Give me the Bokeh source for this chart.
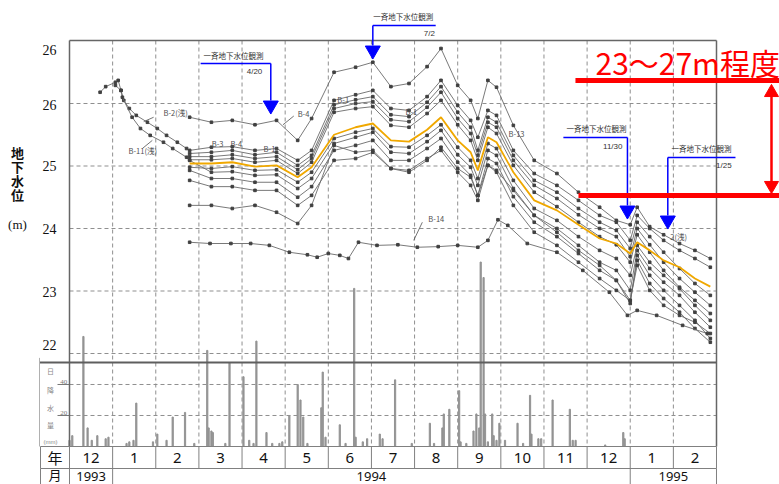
import datetime as dt
from bokeh.plotting import figure
from bokeh.models import Range1d
from bokeh.core.properties import value
from bokeh.embed import file_html
from bokeh.resources import INLINE

# ---------------- data ----------------
CLUSTER_DATES = ["1994-02-23", "1994-03-10", "1994-03-25", "1994-04-10", "1994-04-25", "1994-05-10",
                 "1994-05-20", "1994-06-05", "1994-06-20", "1994-07-02", "1994-07-15", "1994-07-28",
                 "1994-08-10", "1994-08-20", "1994-09-01", "1994-09-10", "1994-09-15", "1994-09-22",
                 "1994-09-28", "1994-10-10", "1994-10-25", "1994-11-10", "1994-11-25", "1994-12-10",
                 "1994-12-22", "1995-01-01", "1995-01-06", "1995-01-15", "1995-01-25", "1995-02-05",
                 "1995-02-15", "1995-02-25"]

B4_TOP = [25.78, 25.70, 25.73, 25.66, 25.73, 25.41, 25.76, 26.50, 26.58, 26.66,
          26.27, 26.32, 26.59, 26.88, 26.29, 26.05, 25.76, 26.37, 26.26, 25.65,
          25.09, 24.88, 24.58, 24.34, 24.13, 24.06, 24.34, 24.03, 23.90, 23.76,
          23.65, 23.52]
HIGHLIGHT = [25.04, 25.04, 25.06, 24.99, 25.01, 24.82, 24.98, 25.50, 25.62, 25.68,
             25.41, 25.39, 25.58, 25.78, 25.41, 25.22, 24.93, 25.46, 25.38, 24.90,
             24.45, 24.29, 24.06, 23.84, 23.76, 23.60, 23.78, 23.65, 23.49, 23.38,
             23.20, 23.07]
B2_MAIN = [25.25, 25.30, 25.31, 25.25, 25.28, 25.09, 25.25, 26.05, 26.14, 26.21,
           25.92, 25.89, 26.11, 26.37, 25.97, 25.73, 25.46, 25.89, 25.81, 25.25,
           24.88, 24.69, 24.45, 24.21, 24.10, 23.81, 24.21, 24.00, 23.81, 23.65,
           23.52, 23.38]
WELL_C2 = [25.20, 25.22, 25.25, 25.18, 25.22, 25.01, 25.17, 25.98, 26.06, 26.11,
           25.82, 25.79, 26.02, 26.27, 25.86, 25.62, 25.25, 25.78, 25.70, 25.17,
           24.77, 24.58, 24.32, 24.10, 23.97, 23.68, 24.10, 23.87, 23.62, 23.36,
           23.12, 22.93]
WELL_C3 = [25.15, 25.15, 25.18, 25.12, 25.15, 24.94, 25.12, 25.92, 26.00, 26.03,
           25.74, 25.71, 25.94, 26.18, 25.76, 25.52, 25.17, 25.70, 25.62, 25.09,
           24.69, 24.48, 24.22, 24.00, 23.87, 23.55, 24.00, 23.74, 23.46, 23.20,
           22.98, 22.77]
WELL_C4 = [25.10, 25.10, 25.12, 25.06, 25.09, 24.88, 25.06, 25.86, 25.92, 25.95,
           25.65, 25.62, 25.84, 26.05, 25.66, 25.41, 25.09, 25.62, 25.52, 25.01,
           24.58, 24.35, 24.10, 23.87, 23.74, 23.46, 23.90, 23.62, 23.33, 23.06,
           22.85, 22.64]
WELL_C5 = [24.98, 24.96, 24.99, 24.93, 24.94, 24.74, 24.90, 25.44, 25.54, 25.60,
           25.31, 25.30, 25.49, 25.66, 25.30, 25.09, 24.80, 25.36, 25.28, 24.77,
           24.32, 24.13, 23.87, 23.65, 23.52, 23.25, 23.73, 23.46, 23.25, 23.04,
           22.77, 22.53]
B11_MAIN = [25.09, 24.90, 24.91, 24.85, 24.86, 24.64, 24.80, 25.36, 25.46, 25.54,
            25.22, 25.20, 25.39, 25.57, 25.18, 24.98, 24.69, 25.25, 25.17, 24.64,
            24.21, 24.00, 23.73, 23.46, 23.33, 23.01, 23.65, 23.36, 23.14, 22.93,
            22.66, 22.42]
WELL_C7 = [24.93, 24.80, 24.80, 24.74, 24.74, 24.50, 24.67, 25.25, 25.33, 25.41,
           25.09, 25.09, 25.28, 25.44, 25.06, 24.85, 24.53, 25.12, 25.04, 24.51,
           24.10, 23.87, 23.60, 23.33, 23.17, 22.80, 23.57, 23.25, 23.01, 22.77,
           22.53, 22.24]
WELL_C8 = [24.77, 24.67, 24.67, 24.61, 24.61, 24.37, 24.53, 25.09, 25.12, 25.22,
           24.96, 24.93, 25.12, 25.25, 24.90, 24.69, 24.45, 25.01, 24.90, 24.37,
           23.94, 23.73, 23.46, 23.20, 23.01, 22.85, 23.49, 23.12, 22.88, 22.66,
           22.40, 22.18]
WELL_LOW = [24.37, 24.37, 24.32, 24.37, 24.26, 24.08, 24.37, 25.33, 25.22, 25.25,
            24.96, 24.90, 25.09, 25.30, 24.96, 24.82, 24.53, 25.01, 24.93, 24.61,
            24.21, 23.94, 23.65, 23.41, 23.17, 22.85, 23.41, 23.01, 22.77, 22.61,
            22.50, 22.32]

B2_EARLY_DATES = ["1993-12-23", "1993-12-27", "1994-01-03", "1994-01-05", "1994-01-07", "1994-01-09",
                  "1994-01-13", "1994-01-18", "1994-01-26", "1994-02-02", "1994-02-08", "1994-02-15",
                  "1994-02-21"]
B2_EARLY = [26.18, 26.27, 26.34, 26.37, 26.21, 26.05, 25.92, 25.81, 25.70, 25.60, 25.49, 25.38, 25.28]
B11_EARLY_DATES = ["1994-01-03", "1994-01-07", "1994-01-08", "1994-01-15", "1994-01-21", "1994-01-28",
                   "1994-02-06", "1994-02-12", "1994-02-21"]
B11_EARLY = [26.29, 26.21, 26.10, 25.78, 25.60, 25.49, 25.38, 25.28, 25.14]

B14_DATES = ["1994-02-23", "1994-03-09", "1994-03-24", "1994-04-07", "1994-04-20", "1994-05-04",
             "1994-05-17", "1994-05-24", "1994-06-01", "1994-06-09", "1994-06-15", "1994-06-22",
             "1994-07-05", "1994-07-20", "1994-08-03", "1994-08-18", "1994-09-01", "1994-09-15",
             "1994-09-22", "1994-09-29", "1994-10-06", "1994-10-20", "1994-11-10", "1994-11-28",
             "1994-12-17", "1994-12-30", "1995-01-06", "1995-01-20", "1995-02-07", "1995-02-23"]
B14 = [23.78, 23.76, 23.76, 23.76, 23.73, 23.62, 23.58, 23.54, 23.60, 23.57,
       23.52, 23.78, 23.73, 23.74, 23.70, 23.71, 23.73, 23.70, 23.81, 24.14,
       24.05, 23.76, 23.62, 23.33, 22.98, 22.61, 22.69, 22.61, 22.45, 22.32]

RAIN_DATES = ["1993-12-01", "1993-12-03", "1993-12-11", "1993-12-14", "1993-12-17", "1993-12-21",
              "1993-12-27", "1993-12-29", "1994-01-11", "1994-01-13", "1994-01-16", "1994-01-18",
              "1994-01-30", "1994-02-02", "1994-02-08", "1994-02-12", "1994-02-20", "1994-02-26",
              "1994-03-07", "1994-03-08", "1994-03-10", "1994-03-11", "1994-03-20", "1994-03-23",
              "1994-04-02", "1994-04-06", "1994-04-09", "1994-04-11", "1994-04-18", "1994-04-22",
              "1994-04-27", "1994-04-29", "1994-05-04", "1994-05-10", "1994-05-12", "1994-05-14",
              "1994-05-17", "1994-05-27", "1994-05-28", "1994-05-30", "1994-06-09", "1994-06-13",
              "1994-06-19", "1994-06-20", "1994-06-25", "1994-06-28", "1994-07-07", "1994-07-09",
              "1994-07-18", "1994-07-30", "1994-08-12", "1994-08-15", "1994-08-21", "1994-08-22",
              "1994-08-26", "1994-09-02", "1994-09-03", "1994-09-07", "1994-09-12", "1994-09-14",
              "1994-09-16", "1994-09-17", "1994-09-19", "1994-09-20", "1994-09-22", "1994-09-25",
              "1994-09-26", "1994-09-28", "1994-09-30", "1994-10-04", "1994-10-13", "1994-10-17",
              "1994-10-22", "1994-10-23", "1994-10-28", "1994-10-30", "1994-11-07", "1994-11-19",
              "1994-11-21", "1994-11-23", "1994-12-14", "1994-12-27", "1994-12-28"]
RAIN_MM = [4, 7, 71, 12, 4, 7, 5, 6, 2, 3, 4, 28,
           3, 8, 4, 19, 22, 2, 62, 12, 10, 9, 2, 54,
           45, 4, 2, 68, 9, 2, 2, 3, 20, 40, 30, 19,
           2, 25, 48, 6, 14, 2, 102, 6, 3, 5, 8, 5,
           43, 2, 15, 2, 12, 21, 24, 36, 3, 2, 10, 21,
           12, 119, 109, 21, 3, 21, 7, 4, 15, 4, 15, 2,
           33, 8, 5, 5, 30, 24, 4, 4, 1, 9, 5]

GRID_LEVELS = [26, 25, 24, 23, 22]
YTICK_LEVELS = [26.85, 25.97, 25.0, 24.0, 22.98, 22.13]
YTICK_LABELS = ["26", "26", "25", "24", "23", "22"]
RAIN_TICKS = [20, 40]
TABLE_MONTHS = ["12", "1", "2", "3", "4", "5", "6", "7", "8", "9", "10", "11", "12", "1", "2"]
TABLE_YEARS = ["1993", "1994", "1995"]
YEAR_START = [0, 1, 13]
YEAR_END = [1, 13, 15]
OBS_LABELS = ["4/20", "7/2", "11/30", "1/25"]
OBS_ARROW_DATES = ["1994-04-21", "1994-07-02", "1994-12-30", "1995-01-28"]


def midx(s):
    d = dt.date.fromisoformat(s)
    nxt = dt.date(d.year + (d.month == 12), d.month % 12 + 1, 1)
    dim = (nxt - dt.date(d.year, d.month, 1)).days
    return (d.year - 1993) * 12 + d.month - 12 + (d.day - 1) / dim


# ---------------- figure ----------------
TOP_L, BOT_L = 27.008, 20.512      # chart frame (level units)
p = figure(width=779, height=484,
           x_range=Range1d(-1.59969, 16.4606), y_range=Range1d(19.904, 27.648),
           output_backend="svg", toolbar_location=None,
           x_axis_type=None, y_axis_type=None, min_border=0,
           outline_line_color=None, background_fill_color="white", border_fill_color="white")
p.extra_y_ranges = {"rain": Range1d(-24.516, 287.74)}

GRID_C = "#8f8f8f"
# horizontal water-level grid
p.segment(x0=[0] * len(GRID_LEVELS), y0=GRID_LEVELS, x1=[15] * len(GRID_LEVELS), y1=GRID_LEVELS,
          line_color=GRID_C, line_width=1, line_dash="4 3")
# rain grid
p.segment(x0=[0, 0], y0=RAIN_TICKS, x1=[15, 15], y1=RAIN_TICKS, y_range_name="rain",
          line_color=GRID_C, line_width=1, line_dash="4 3")
p.segment(x0=[-0.278] * 2, y0=RAIN_TICKS, x1=[0] * 2, y1=RAIN_TICKS, y_range_name="rain",
          line_color="#777777", line_width=1)
# month boundaries
mb = list(range(1, 15))
p.segment(x0=mb, y0=[TOP_L] * len(mb), x1=mb, y1=[BOT_L] * len(mb),
          line_color=GRID_C, line_width=1, line_dash="4 3")

# rain bars
p.vbar(x=[midx(d) for d in RAIN_DATES], top=RAIN_MM, bottom=0, width=0.028,
       y_range_name="rain", color="#939393")

# frame
p.segment(x0=[0, 0, 15], y0=[TOP_L, TOP_L, TOP_L], x1=[15, 0, 15], y1=[TOP_L, BOT_L, BOT_L],
          line_color="#666666", line_width=1.5)
p.segment(x0=[-0.6955], y0=[21.856], x1=[15], y1=[21.856], line_color="#5e5e5e", line_width=2.2)
p.segment(x0=[-0.6955], y0=[21.93], x1=[-0.6955], y1=[BOT_L], line_color="#b0b0b0", line_width=1)

# water level lines
LINE_C, MARK_C = "#6a6a6a", "#404040"
cx = [midx(d) for d in CLUSTER_DATES]
series = [
    ([midx(d) for d in B2_EARLY_DATES] + cx, B2_EARLY + B2_MAIN),
    ([midx(d) for d in B11_EARLY_DATES] + cx, B11_EARLY + B11_MAIN),
    (cx, B4_TOP), (cx, WELL_C2), (cx, WELL_C3), (cx, WELL_C4), (cx, WELL_C5),
    (cx, WELL_C7), (cx, WELL_C8), (cx, WELL_LOW),
    ([midx(d) for d in B14_DATES], B14),
]
for xs, ys in series:
    p.line(xs, ys, line_color=LINE_C, line_width=0.9)
    p.scatter(xs, ys, marker="square", size=2.6, color=MARK_C)
p.line(cx, HIGHLIGHT, line_color="#f0a800", line_width=1.8)

# station labels
p.text(x=[2.18, 1.37, 5.29, 3.30, 3.73, 4.50, 6.21, 7.79, 8.32, 10.18, 13.93],
       y=[25.86, 25.25, 25.84, 25.36, 25.36, 25.28, 26.06, 25.87, 24.16, 25.52, 23.87],
       text=["B-2(浅)", "B-11(浅)", "B-4", "B-3", "B-4", "B-1", "B-1", "B-1", "B-14", "B-13", "2(浅)"],
       text_font=value("Noto Sans CJK JP"), text_font_size="7.5px", text_color="#505050",
       text_align="left", text_baseline="middle")
p.segment(x0=[1.95, 1.69, 5.20, 8.18], y0=[25.78, 25.28, 25.80, 24.10],
          x1=[1.72, 1.92, 4.95, 7.98], y1=[25.71, 25.41, 25.66, 23.81],
          line_color="#505050", line_width=0.8)

# y tick labels (water level)
p.text(x=[-0.30] * len(YTICK_LEVELS), y=YTICK_LEVELS, text=YTICK_LABELS,
       text_font=value("Liberation Serif"), text_font_size="14px", text_color="#111111",
       text_align="right", text_baseline="middle")
# y axis title
p.text(x=[-1.2056] * 4, y=[25.216, 24.992, 24.768, 24.544], text=["地", "下", "水", "位"],
       text_font=value("Noto Sans CJK JP"), text_font_size="13px", text_font_style="bold",
       text_color="#111111", text_align="center", text_baseline="middle")
p.text(x=[-1.2056], y=[24.064], text=["(m)"], text_font=value("Liberation Serif"),
       text_font_size="13px", text_color="#111111", text_align="center", text_baseline="middle")
# rain axis labels
p.text(x=[-0.05] * 2, y=RAIN_TICKS, text=[str(t) for t in RAIN_TICKS], y_range_name="rain",
       text_font=value("Liberation Serif"), text_font_size="7px", text_color="#777777",
       text_align="right", text_baseline="bottom")
p.text(x=[-0.4405] * 4, y=[21.728, 21.424, 21.136, 20.864], text=["日", "降", "水", "量"],
       text_font=value("Noto Sans CJK JP"), text_font_size="7px", text_color="#888888",
       text_align="center", text_baseline="middle")
p.text(x=[-0.4405], y=[20.58], text=["(mm)"], text_font=value("Liberation Sans"),
       text_font_size="6px", text_color="#888888", text_align="center", text_baseline="middle")

# bottom table
TB_C = "#808080"
R0, R1, R2 = 20.512, 20.16, 19.904
p.segment(x0=[-0.672, -0.672], y0=[R0, R1], x1=[15, 15], y1=[R0, R1], line_color=TB_C, line_width=1)
vx = [-0.672] + list(range(0, 16))
p.segment(x0=vx, y0=[R0] * len(vx), x1=vx, y1=[R1] * len(vx), line_color=TB_C, line_width=1)
vx2 = [-0.672, 0, 1, 13, 15]
p.segment(x0=vx2, y0=[R1] * len(vx2), x1=vx2, y1=[R2] * len(vx2), line_color=TB_C, line_width=1)
p.text(x=[i + 0.5 for i in range(len(TABLE_MONTHS))], y=[20.336] * len(TABLE_MONTHS),
       text=TABLE_MONTHS, text_font=value("Noto Sans"), text_font_size="15px", text_color="#111111",
       text_align="center", text_baseline="middle")
p.text(x=[(a + b) / 2 for a, b in zip(YEAR_START, YEAR_END)], y=[20.04] * 3,
       text=TABLE_YEARS, text_font=value("Noto Sans"), text_font_size="13px", text_color="#111111",
       text_align="center", text_baseline="middle")
p.text(x=[-0.336], y=[20.336], text=["年"],
       text_font=value("Noto Sans CJK JP"), text_font_size="15px", text_color="#111111",
       text_align="center", text_baseline="middle")
p.text(x=[-0.336], y=[20.062], text=["月"],
       text_font=value("Noto Sans CJK JP"), text_font_size="13px", text_color="#111111",
       text_align="center", text_baseline="middle")

# blue observation arrows
BLUE = "#0000ff"
ax = [midx(d) for d in OBS_ARROW_DATES]
txt_x = [3.80, 7.74, 12.22, 14.65]
txt_y = [26.77, 27.39, 25.60, 25.28]
line_y = [26.64, 27.25, 25.456, 25.136]
line_x0 = [3.04, ax[1], 11.45, ax[3]]
line_x1 = [ax[0], 8.49, ax[2], 15.44]
lab_x = [4.47, 8.47, 12.82, 15.35]
lab_y = [26.51, 27.12, 25.31, 25.01]
shaft_end = [26.05, 26.93, 24.37, 24.21]
tri_y = [25.97, 26.85, 24.29, 24.13]
p.text(x=txt_x, y=txt_y, text=["一斉地下水位観測"] * 4, text_font=value("Noto Sans CJK JP"),
       text_font_size="7.5px", text_color="#333333", text_align="center", text_baseline="middle")
p.text(x=lab_x, y=lab_y, text=OBS_LABELS, text_font=value("Liberation Sans"),
       text_font_size="8px", text_color="#333333", text_align="right", text_baseline="middle")
p.segment(x0=line_x0, y0=line_y, x1=line_x1, y1=line_y, line_color=BLUE, line_width=1.5)
p.segment(x0=ax, y0=line_y, x1=ax, y1=shaft_end, line_color=BLUE, line_width=1.5)
p.scatter(x=ax, y=tri_y, marker="inverted_triangle", size=15, color=BLUE)

# red range annotation
RED = "#ff0000"
p.segment(x0=[11.73, 11.80], y0=[26.368, 24.528], x1=[16.5, 16.5], y1=[26.368, 24.528],
          line_color=RED, line_width=5)
p.segment(x0=[16.275], y0=[26.24], x1=[16.275], y1=[24.62], line_color=RED, line_width=2.5)
p.scatter(x=[16.275], y=[26.176], marker="triangle", size=14, color=RED)
p.scatter(x=[16.275], y=[24.688], marker="inverted_triangle", size=14, color=RED)
p.text(x=[12.195], y=[26.672], text=["23～27m程度"], text_font=value("Noto Sans CJK JP"),
       text_font_size="30px", text_color=RED, text_align="left", text_baseline="middle")

open("out.html", "w").write(file_html(p, INLINE))
